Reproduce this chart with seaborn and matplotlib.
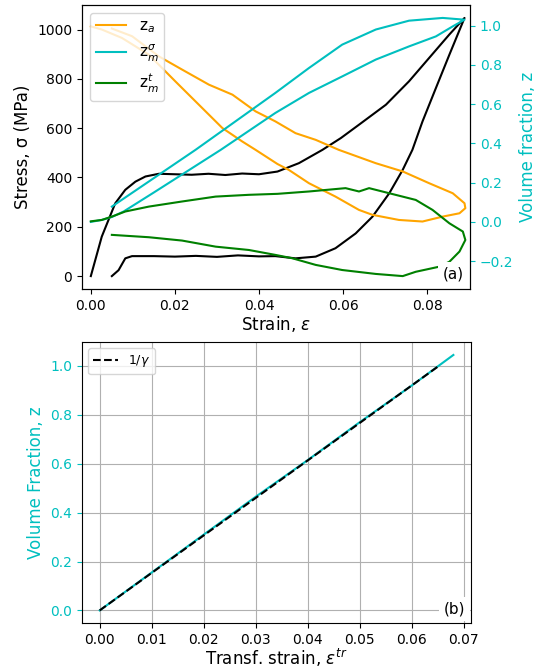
import matplotlib
matplotlib.use("Agg")
import matplotlib.pyplot as plt
import seaborn as sns

# (a) stress-strain hysteresis loop (loading then unloading)
strain_stress = [0, 0.0026, 0.0058, 0.0082, 0.0106, 0.013, 0.0162, 0.02, 0.024, 0.028,
                 0.032, 0.036, 0.040, 0.0444, 0.0495, 0.0551, 0.0595, 0.0638, 0.0702,
                 0.0757, 0.0805, 0.0853, 0.0889,
                 0.0853, 0.0821, 0.0789, 0.0765, 0.0742, 0.071, 0.067, 0.063, 0.0582,
                 0.0535, 0.0487, 0.0439, 0.040, 0.035, 0.030, 0.025, 0.020, 0.015,
                 0.0098, 0.0082, 0.0066, 0.005]
stress = [0, 160, 295, 350, 383, 404, 415, 413, 411, 415,
          410, 416, 413, 424, 458, 512, 560, 614, 695,
          790, 885, 980, 1047,
          898, 763, 627, 512, 431, 336, 241, 173, 113,
          79, 72, 81, 80, 84, 78, 82, 79, 81,
          81, 72, 24, 0]

# volume fractions
strain_za = [0, 0.0026, 0.0074, 0.0138, 0.0201, 0.0257, 0.0313, 0.036, 0.0392, 0.0444,
             0.0471, 0.0519, 0.0582, 0.0638, 0.067, 0.0733, 0.0789, 0.0837, 0.0877,
             0.0891, 0.0889, 0.0861, 0.0805, 0.0742, 0.0678, 0.059, 0.0535, 0.0487,
             0.0439, 0.0392, 0.0337, 0.0281, 0.0217, 0.0162, 0.0098, 0.005]
za = [0.996, 0.98, 0.937, 0.852, 0.716, 0.597, 0.478, 0.41, 0.367, 0.295,
      0.265, 0.197, 0.129, 0.061, 0.036, 0.01, 0.002, 0.027, 0.044,
      0.07, 0.095, 0.146, 0.197, 0.257, 0.299, 0.367, 0.418, 0.452,
      0.512, 0.563, 0.648, 0.699, 0.776, 0.843, 0.946, 0.985]

strain_zs = [0, 0.0026, 0.005, 0.0078, 0.015, 0.0309, 0.0439, 0.0519, 0.0598, 0.0678,
             0.0757, 0.0821, 0.0861, 0.0889,
             0.0837, 0.0757, 0.0678, 0.0598, 0.0519, 0.0439, 0.0249, 0.005]
zs = [0, 0.01, 0.025, 0.053, 0.15, 0.367, 0.555, 0.657, 0.741, 0.827,
      0.894, 0.945, 0.996, 1.03,
      1.039, 1.025, 0.98, 0.903, 0.784, 0.657, 0.367, 0.078]

strain_zt = [0, 0.0026, 0.005, 0.0082, 0.0138, 0.0217, 0.0297, 0.0376, 0.0444, 0.0519,
             0.0606, 0.0638, 0.0662, 0.071, 0.0773, 0.0813, 0.0853, 0.0885, 0.0891,
             0.0877, 0.0853, 0.0829, 0.0773, 0.0742, 0.0678, 0.0598, 0.0535, 0.0479,
             0.0439, 0.0376, 0.0297, 0.0217, 0.0138, 0.005]
zt = [0.003, 0.01, 0.027, 0.053, 0.078, 0.104, 0.129, 0.138, 0.143, 0.155,
      0.172, 0.155, 0.172, 0.146, 0.112, 0.061, -0.007, -0.049, -0.092,
      -0.151, -0.203, -0.228, -0.254, -0.276, -0.265, -0.245, -0.219, -0.185,
      -0.168, -0.143, -0.126, -0.095, -0.078, -0.066]

# (b) volume fraction vs transformation strain
eps_tr = [0, 0.01, 0.02, 0.03, 0.04, 0.05, 0.06, 0.068]
z_tr = [0, 0.155, 0.31, 0.465, 0.615, 0.77, 0.92, 1.045]
eps_gamma = [0, 0.065]
z_gamma = [0, 0.997]

plt.rcParams.update({'font.size': 10, 'xtick.labelsize': 10, 'ytick.labelsize': 10,
                     'axes.labelsize': 12, 'legend.fontsize': 11})

fig = plt.figure(figsize=(5.37, 6.69), dpi=100)
ax = fig.add_axes([0.1527, 0.568, 0.7225, 0.4245])
ax2 = ax.twinx()
bx = fig.add_axes([0.1527, 0.0685, 0.7245, 0.4200])

line_kw = dict(sort=False, estimator=None, errorbar=None, lw=1.5)
sns.lineplot(x=strain_stress, y=stress, color='k', ax=ax, **line_kw)
sns.lineplot(x=strain_za, y=za, color='orange', label=r'z$_a$', ax=ax2, **line_kw)
sns.lineplot(x=strain_zs, y=zs, color='c', label=r'z$^{\sigma}_{m}$', ax=ax2, **line_kw)
sns.lineplot(x=strain_zt, y=zt, color='green', label=r'z$^{t}_{m}$', ax=ax2, **line_kw)

ax.set_xlim(-0.0021, 0.0902)
ax.set_xlabel(r'Strain, $\varepsilon$', labelpad=1)
ax.set_ylabel('Stress, σ (MPa)')
ax2.set_ylabel('Volume fraction, z', color='c')
ax2.tick_params(axis='y', colors='c')
ax2.spines['right'].set_color('k')
ax2.legend(loc='upper left', fontsize=11)
ax2.text(0.985, 0.025, '(a)', transform=ax2.transAxes, ha='right', va='bottom',
         fontsize=11, zorder=10,
         bbox=dict(boxstyle='square,pad=0.3', facecolor='white', edgecolor='none'))

sns.lineplot(x=eps_tr, y=z_tr, color='c', ax=bx, **line_kw)
sns.lineplot(x=eps_gamma, y=z_gamma, color='k', ls='--', label=r'1/$\gamma$', ax=bx, **line_kw)
bx.grid(True)
bx.set_axisbelow(True)
bx.set_xlabel(r'Transf. strain, $\varepsilon^{tr}$', labelpad=0)
bx.set_ylabel('Volume Fraction, z', color='c')
bx.tick_params(axis='y', colors='c')
bx.legend(loc='upper left', fontsize=9)
bx.text(0.985, 0.025, '(b)', transform=bx.transAxes, ha='right', va='bottom',
        fontsize=11, zorder=10,
        bbox=dict(boxstyle='square,pad=0.3', facecolor='white', edgecolor='none'))

fig.savefig('out.png', dpi=100)
